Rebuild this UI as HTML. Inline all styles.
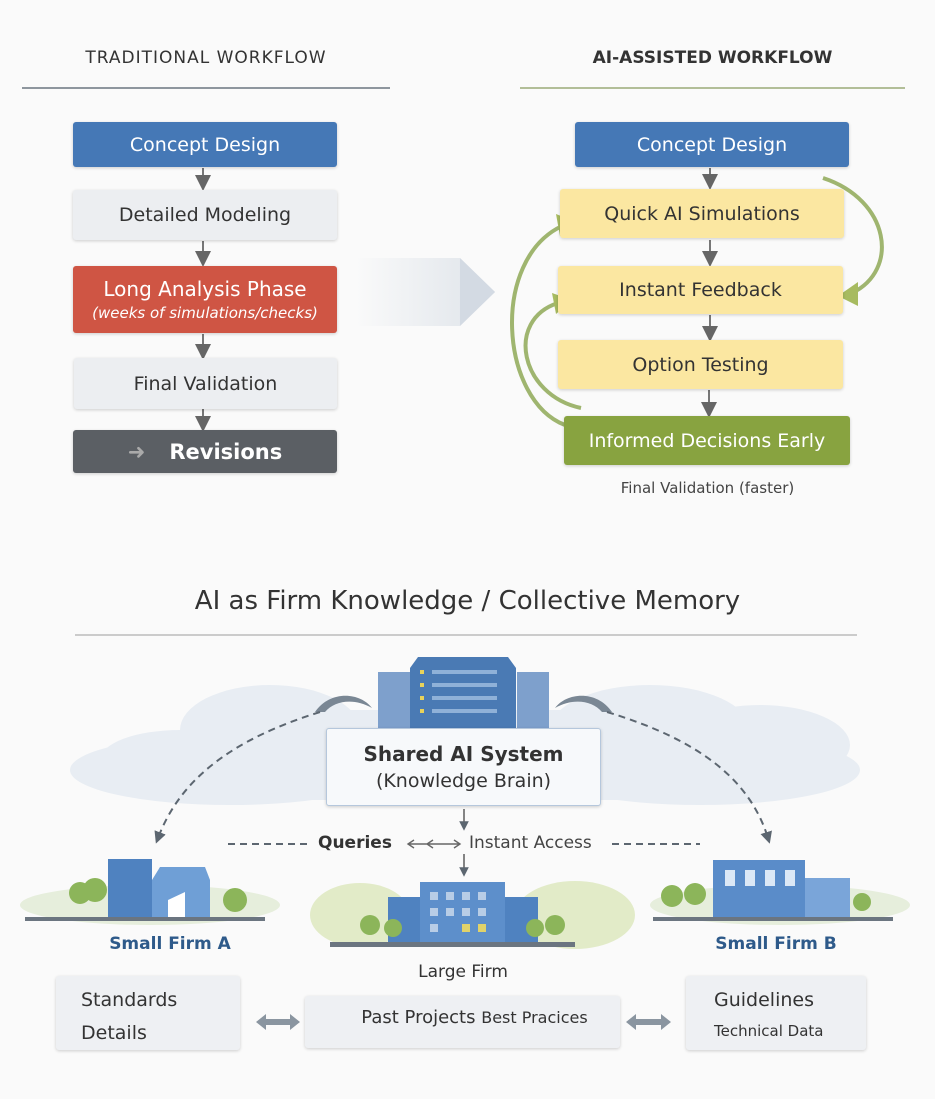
<!DOCTYPE html>
<html><head><meta charset="utf-8"><style>
body{margin:0;width:935px;height:1099px;background:#fafafa;font-family:"DejaVu Sans","Liberation Sans",sans-serif;position:relative;overflow:hidden}
.a{position:absolute}
.b{position:absolute;display:flex;align-items:center;justify-content:center;border-radius:3px;box-shadow:0 1px 3px rgba(0,0,0,.18);text-align:center}
</style></head><body>
<svg class="a" style="left:0;top:0" width="935" height="1099">
<defs>
<linearGradient id="ga" x1="0" x2="1"><stop offset="0" stop-color="#fafafa"/><stop offset="1" stop-color="#d5dce4"/></linearGradient>
<marker id="m" markerWidth="8" markerHeight="8" refX="4" refY="4" orient="auto"><path d="M0,0L8,4L0,8z" fill="#666"/></marker>
<marker id="md" markerWidth="6" markerHeight="6" refX="3" refY="3" orient="auto"><path d="M0,0L6,3L0,6z" fill="#5c6670"/></marker>
</defs>
<line x1="22" y1="88" x2="390" y2="88" stroke="#6b7580" stroke-width="1.5"/>
<line x1="520" y1="88" x2="905" y2="88" stroke="#9aaa78" stroke-width="1.5"/>
<g stroke="#777" stroke-width="2" marker-end="url(#m)">
<line x1="203" y1="168" x2="203" y2="183"/><line x1="203" y1="241" x2="203" y2="259"/>
<line x1="203" y1="334" x2="203" y2="352"/><line x1="203" y1="409" x2="203" y2="424"/>
<line x1="710" y1="168" x2="710" y2="182"/><line x1="710" y1="240" x2="710" y2="259"/>
<line x1="710" y1="315" x2="710" y2="334"/><line x1="709" y1="390" x2="709" y2="410"/>
</g>
<path d="M355,258 H460 L495,292 L460,326 H355 Z" fill="url(#ga)" opacity=".75"/>
<path d="M460,258 L495,292 L460,326 Z" fill="#d3dae3"/>
<g fill="none" stroke="#9fb56f" stroke-width="4">
<path d="M823,178 C890,200 900,270 852,293"/>
<path d="M565,425 C500,400 490,260 562,226"/>
<path d="M581,408 C520,395 505,320 558,303"/>
</g>
<g fill="#a7bb60"><path d="M576,222 L556,214 L560,236Z"/><path d="M572,300 L552,293 L556,314Z"/><path d="M838,296 L858,282 L858,306Z"/></g>
<line x1="75" y1="635" x2="857" y2="635" stroke="#bbb" stroke-width="1.5"/>
<g fill="#e8edf3">
<ellipse cx="230" cy="770" rx="160" ry="35"/><ellipse cx="270" cy="730" rx="90" ry="45"/><ellipse cx="180" cy="760" rx="80" ry="30"/>
<ellipse cx="700" cy="770" rx="160" ry="35"/><ellipse cx="650" cy="730" rx="100" ry="45"/><ellipse cx="760" cy="745" rx="90" ry="40"/>
<rect x="200" y="710" width="530" height="90"/>
</g>
<rect x="378" y="672" width="32" height="56" fill="#7ea0cc"/><rect x="517" y="672" width="32" height="56" fill="#7ea0cc"/>
<path d="M410,668 L418,657 L508,657 L516,668 V728 H410Z" fill="#4a7ab4"/>
<g fill="#8fb1d8"><rect x="432" y="670" width="65" height="4"/><rect x="432" y="683" width="65" height="4"/><rect x="432" y="696" width="65" height="4"/><rect x="432" y="709" width="65" height="4"/></g>
<g fill="#e8d25a"><rect x="420" y="670" width="4" height="4"/><rect x="420" y="683" width="4" height="4"/><rect x="420" y="696" width="4" height="4"/><rect x="420" y="709" width="4" height="4"/></g>
<g fill="#7a8794"><path d="M315,712 C330,690 360,692 372,708 C355,698 335,700 325,712Z"/><path d="M612,712 C597,690 567,692 555,708 C572,698 592,700 602,712Z"/></g>
<g fill="none" stroke="#5c6670" stroke-width="2" stroke-dasharray="7,5">
<path d="M320,712 C230,740 180,780 158,838" marker-end="url(#md)"/>
<path d="M607,712 C700,740 750,780 768,838" marker-end="url(#md)"/>
<line x1="228" y1="844" x2="312" y2="844"/><line x1="612" y1="844" x2="700" y2="844"/>
</g>
<g stroke="#666" stroke-width="1.6" marker-end="url(#md)"><line x1="464" y1="809" x2="464" y2="826"/><line x1="464" y1="854" x2="464" y2="872"/></g>
<g stroke="#666" stroke-width="1.4" fill="none"><path d="M408,844 H460 M414,840 L408,844 L414,848 M433,840 L427,844 L433,848 M454,840 L460,844 L454,848"/></g>
<ellipse cx="150" cy="905" rx="130" ry="20" fill="#e6eedc"/>
<g fill="#8cb55a"><circle cx="80" cy="893" r="11"/><circle cx="95" cy="890" r="12"/><circle cx="235" cy="900" r="12"/></g>
<rect x="108" y="859" width="44" height="60" fill="#4f82c0"/>
<path d="M152,880 L160,867 L205,867 L210,880 V919 H152Z" fill="#6f9fd6"/>
<path d="M168,919 V900 L185,892 V919Z" fill="#fff"/>
<rect x="25" y="917" width="240" height="4" fill="#6b7580"/>
<ellipse cx="360" cy="915" rx="50" ry="32" fill="#e2ebc8"/><ellipse cx="575" cy="915" rx="60" ry="34" fill="#e2ebc8"/>
<rect x="388" y="897" width="150" height="45" fill="#4f82c0"/>
<rect x="420" y="882" width="85" height="60" fill="#5d8fcb"/>
<g fill="#b8cde6"><rect x="430" y="892" width="8" height="8"/><rect x="446" y="892" width="8" height="8"/><rect x="462" y="892" width="8" height="8"/><rect x="478" y="892" width="8" height="8"/><rect x="430" y="908" width="8" height="8"/><rect x="446" y="908" width="8" height="8"/><rect x="462" y="908" width="8" height="8"/><rect x="478" y="908" width="8" height="8"/><rect x="430" y="924" width="8" height="8"/></g>
<g fill="#e0d26a"><rect x="462" y="924" width="8" height="8"/><rect x="478" y="924" width="8" height="8"/></g>
<g fill="#8cb55a"><circle cx="370" cy="925" r="10"/><circle cx="393" cy="928" r="9"/><circle cx="535" cy="928" r="9"/><circle cx="555" cy="925" r="10"/></g>
<rect x="330" y="942" width="245" height="5" fill="#6b7580"/>
<ellipse cx="780" cy="905" rx="130" ry="20" fill="#e6eedc"/>
<rect x="713" y="860" width="92" height="58" fill="#5a8cc9"/>
<rect x="805" y="878" width="45" height="40" fill="#7aa5d9"/>
<g fill="#dce8f6"><rect x="725" y="870" width="10" height="16"/><rect x="745" y="870" width="10" height="16"/><rect x="765" y="870" width="10" height="16"/><rect x="785" y="870" width="10" height="16"/></g>
<g fill="#8cb55a"><circle cx="672" cy="896" r="11"/><circle cx="695" cy="894" r="11"/><circle cx="862" cy="902" r="9"/></g>
<rect x="653" y="917" width="240" height="4" fill="#6b7580"/>
<g fill="#8a95a0"><path d="M256,1022 L266,1014 V1019 H290 V1014 L300,1022 L290,1030 V1025 H266 V1030Z"/><path d="M626,1022 L636,1014 V1019 H661 V1014 L671,1022 L661,1030 V1025 H636 V1030Z"/></g>
</svg>
<div class="a" style="left:22px;width:368px;top:48px;text-align:center;font-size:17px;letter-spacing:1px;color:#333">TRADITIONAL WORKFLOW</div>
<div class="a" style="left:520px;width:385px;top:48px;text-align:center;font-size:17px;font-weight:bold;color:#333">AI-ASSISTED WORKFLOW</div>
<div class="b" style="left:73px;top:122px;width:264px;height:45px;background:#4578b6;color:#fff;font-size:19px">Concept Design</div>
<div class="b" style="left:73px;top:190px;width:264px;height:50px;background:#eceef1;color:#333;font-size:19px">Detailed Modeling</div>
<div class="b" style="left:73px;top:266px;width:264px;height:67px;background:#cf5544;color:#fff;font-size:20px;flex-direction:column">Long Analysis Phase<span style="font-size:15px;font-style:italic;margin-top:3px">(weeks of simulations/checks)</span></div>
<div class="b" style="left:74px;top:358px;width:263px;height:51px;background:#eceef1;color:#333;font-size:19px">Final Validation</div>
<div class="b" style="left:73px;top:430px;width:264px;height:43px;background:#5b5f64;color:#fff;font-size:21px;font-weight:bold"><span style="color:#aaa;margin-right:24px">➜</span>Revisions</div>
<div class="b" style="left:575px;top:122px;width:274px;height:45px;background:#4578b6;color:#fff;font-size:19px">Concept Design</div>
<div class="b" style="left:560px;top:189px;width:284px;height:49px;background:#fbe7a1;color:#333;font-size:19px">Quick AI Simulations</div>
<div class="b" style="left:558px;top:266px;width:285px;height:48px;background:#fbe7a1;color:#333;font-size:19px">Instant Feedback</div>
<div class="b" style="left:558px;top:340px;width:285px;height:49px;background:#fbe7a1;color:#333;font-size:19px">Option Testing</div>
<div class="b" style="left:564px;top:416px;width:286px;height:49px;background:#88a340;color:#fff;font-size:19px">Informed Decisions Early</div>
<div class="a" style="left:560px;width:295px;top:479px;text-align:center;font-size:15px;color:#444">Final Validation (faster)</div>
<div class="a" style="left:0;width:935px;top:586px;text-align:center;font-size:26px;color:#333">AI as Firm Knowledge / Collective Memory</div>
<div class="b" style="left:326px;top:728px;width:275px;height:78px;background:#f7f9fb;border:1.5px solid #b5c7dc;flex-direction:column;color:#333;font-size:20px;box-sizing:border-box"><b style="font-weight:600">Shared AI System</b><span style="margin-top:4px;font-size:19px">(Knowledge Brain)</span></div>
<div class="a" style="left:318px;top:833px;font-size:17px;color:#333;font-weight:bold">Queries</div>
<div class="a" style="left:469px;top:833px;font-size:17px;color:#444">Instant Access</div>
<div class="a" style="left:50px;width:240px;top:934px;text-align:center;font-size:17px;font-weight:bold;color:#2e5a8a">Small Firm A</div>
<div class="a" style="left:656px;width:240px;top:934px;text-align:center;font-size:17px;font-weight:bold;color:#2e5a8a">Small Firm B</div>
<div class="a" style="left:343px;width:240px;top:962px;text-align:center;font-size:17px;color:#333">Large Firm</div>
<div class="b" style="left:56px;top:976px;width:184px;height:74px;background:#eef0f3;display:block;text-align:left;font-size:19px;color:#333;box-sizing:border-box;padding:8px 0 0 25px;line-height:33px">Standards<br>Details</div>
<div class="b" style="left:305px;top:996px;width:315px;height:52px;background:#eef0f3;color:#333;font-size:18px;display:block;box-sizing:border-box;padding:11px 0 0 24px">Past Projects <span style="font-size:16px">Best Pracices</span></div>
<div class="b" style="left:686px;top:976px;width:180px;height:74px;background:#eef0f3;display:block;text-align:left;color:#333;box-sizing:border-box;padding:9px 0 0 28px;font-size:19px;line-height:30px">Guidelines<br><span style="font-size:15px">Technical Data</span></div>
</body></html>
